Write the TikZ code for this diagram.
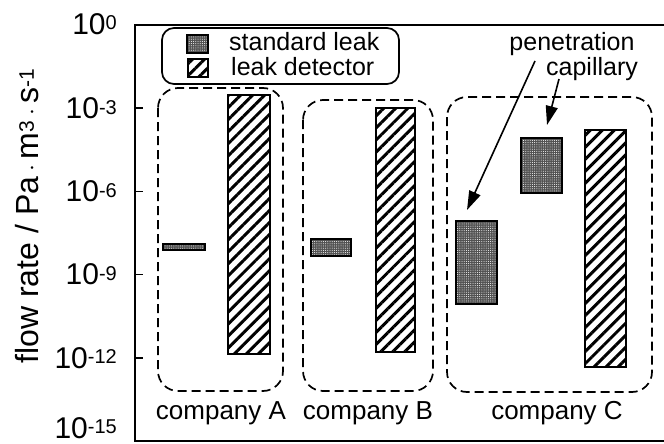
\documentclass[tikz,border=0pt]{standalone}
\usepackage{fontspec}
\setmainfont{Liberation Sans}
\usetikzlibrary{patterns,patterns.meta,arrows.meta}

% raised small exponent
\newcommand\expo[2][20]{\raisebox{4.5pt}{\fontsize{#1}{#1}\selectfont #2}}

\tikzset{
  frameline/.style={line width=1.5pt},
  ticklab/.style={anchor=east, inner sep=0pt, font=\fontsize{30}{30}\selectfont},
  lab/.style={inner sep=0pt, font=\fontsize{25}{25}\selectfont},
  company/.style={draw, line width=1.7pt, dash pattern=on 9pt off 5pt, rounded corners=20pt},
  stipple/.style={fill=black!68,
    postaction={pattern={Dots[radius=0.5pt,distance=2.2pt]}, pattern color=white},
    postaction={draw, line width=2pt}},
  hatch/.style={fill=white,
    postaction={pattern={Lines[angle=45,distance=8.5pt,line width=3pt]}, pattern color=black},
    postaction={draw, line width=2pt}},
  pointer/.style={line width=1.6pt, -{Triangle[length=19pt,width=12pt]}}
}

\begin{document}
\begin{tikzpicture}[x=1pt,y=-1pt]
\useasboundingbox (0,0) rectangle (664,444);

% axes frame and ticks
\draw[frameline] (664,25) -- (135,25) -- (135,441) -- (664,441);
\foreach \k in {1,...,4}{
  \draw[frameline] (135,25+83.2*\k) -- (143,25+83.2*\k);
}

% decade labels
\node[ticklab] (e0)  at (117,24)    {10\expo{0}};
\node[ticklab] (e3)  at (117,108.2) {10\expo{-3}};
\node[ticklab] (e6)  at (117,191.4) {10\expo{-6}};
\node[ticklab] (e9)  at (117,274.6) {10\expo{-9}};
\node[ticklab] (e12) at (117,357.8) {10\expo{-12}};
\node[ticklab] (e15) at (117,428)   {10\expo{-15}};

% axis title
\node[inner sep=0pt, rotate=90, font=\fontsize{32}{32}\selectfont] (ylab) at (27,216)
  {flow rate / Pa\,$\cdot$\,m\expo[21]{3}\,$\cdot$\,s\expo[21]{-1}};

% legend
\draw[line width=1.7pt, rounded corners=12pt] (162,28) rectangle (399,84);
\path[stipple] (187,35) rectangle (208,53);
\path[hatch] (188,59) rectangle (208,77);
\node[lab, anchor=base west] (lstd) at (229,51) {standard leak};
\node[lab, anchor=base west] (ldet) at (231,75) {leak detector};

% company groups
\path[company] (158,88)  rectangle (283,391);
\path[company] (303,100) rectangle (433,391);
\path[company] (447,97)  rectangle (652,392);

% company A
\path[stipple] (163,244) rectangle (205,250);
\path[hatch]   (228,95)  rectangle (270,354);
% company B
\path[stipple] (311,239) rectangle (351,256);
\path[hatch]   (376,108) rectangle (415,352);
% company C
\path[stipple] (456,221) rectangle (497,304);
\path[stipple] (521,138) rectangle (562,193);
\path[hatch]   (585,130) rectangle (626,367);

% group names
\node[lab, anchor=base, font=\fontsize{26}{26}\selectfont] (ca) at (221,419) {company A};
\node[lab, anchor=base, font=\fontsize{26}{26}\selectfont] (cb) at (368,419) {company B};
\node[lab, anchor=base, font=\fontsize{26}{26}\selectfont] (cc) at (557,419) {company C};

% annotations
\node[lab, anchor=base] (pen) at (572,51) {penetration};
\node[lab, anchor=base] (cap) at (592,75) {capillary};
\coordinate (penfrom) at (535,61);
\coordinate (pento)   at (467,210);
\coordinate (capfrom) at (559,79);
\coordinate (capto)   at (547,125);
\draw[pointer] (penfrom) -- (pento);
\draw[pointer] (capfrom) -- (capto);
\end{tikzpicture}
\end{document}
